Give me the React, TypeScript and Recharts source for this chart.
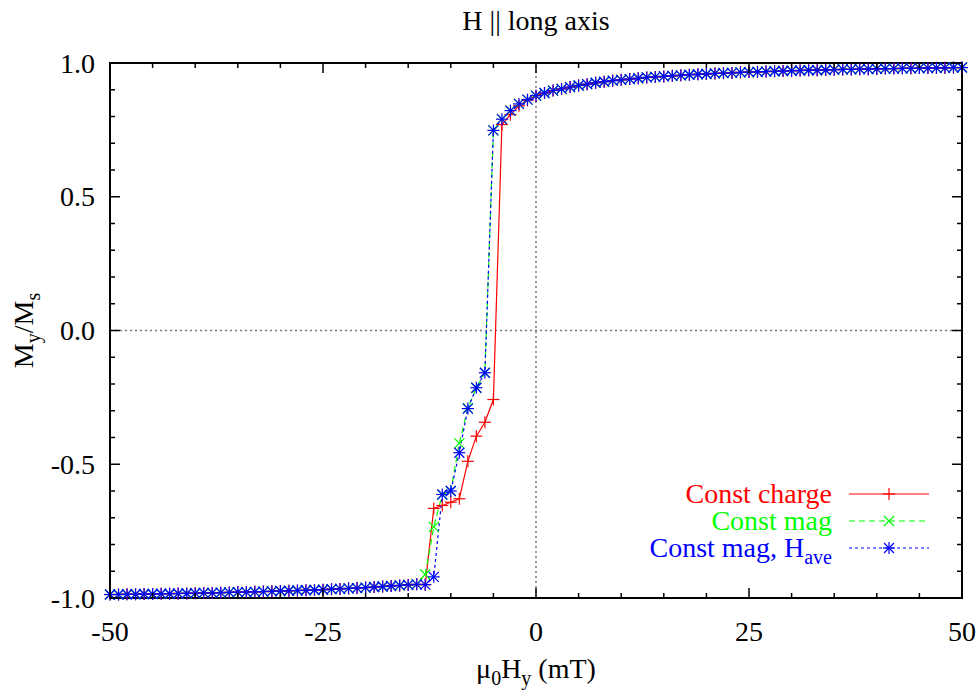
import { LineChart, Line, XAxis, YAxis, ReferenceLine, ReferenceArea, Legend } from "recharts"

// applied field, mT
const hField = [
  -50, -49, -48, -47, -46, -45, -44, -43, -42, -41, -40, -39, -38, -37, -36, -35, -34, -33, -32, -31,
  -30, -29, -28, -27, -26, -25, -24, -23, -22, -21, -20, -19, -18, -17, -16, -15, -14, -13, -12, -11,
  -10, -9, -8, -7, -6, -5, -4, -3, -2, -1, 0, 1, 2, 3, 4, 5, 6, 7, 8, 9, 10, 11, 12, 13, 14, 15, 16,
  17, 18, 19, 20, 21, 22, 23, 24, 25, 26, 27, 28, 29, 30, 31, 32, 33, 34, 35, 36, 37, 38, 39, 40, 41,
  42, 43, 44, 45, 46, 47, 48, 49, 50,
]

// common lower branch, H = -50 .. -14
const lowerBranch = [
  -0.987, -0.987, -0.986, -0.986, -0.985, -0.985, -0.984, -0.984, -0.983, -0.983,
  -0.982, -0.981, -0.981, -0.98, -0.979, -0.978, -0.978, -0.977, -0.976, -0.975,
  -0.974, -0.973, -0.972, -0.971, -0.97, -0.969, -0.967, -0.966, -0.964, -0.963,
  -0.961, -0.959, -0.957, -0.955, -0.953, -0.951, -0.949,
]

// switching region, H = -13 .. -1
const chargeTransition = [-0.95, -0.665, -0.654, -0.642, -0.629, -0.489, -0.395, -0.343, -0.258, 0.77, 0.807, 0.84, 0.86]
const magTransition = [-0.912, -0.734, -0.613, -0.6, -0.422, -0.29, -0.214, -0.158, 0.748, 0.79, 0.822, 0.847, 0.863]
const aveTransition = [-0.95, -0.921, -0.613, -0.6, -0.457, -0.292, -0.214, -0.158, 0.748, 0.79, 0.822, 0.847, 0.863]

// common upper branch, H = 0 .. 50
const upperBranch = [
  0.878, 0.888, 0.897, 0.903, 0.91, 0.916, 0.921, 0.926, 0.93, 0.934,
  0.937, 0.94, 0.943, 0.946, 0.948, 0.95, 0.952, 0.954, 0.956, 0.958,
  0.959, 0.961, 0.962, 0.963, 0.965, 0.966, 0.967, 0.968, 0.969, 0.97,
  0.971, 0.972, 0.973, 0.973, 0.974, 0.975, 0.976, 0.976, 0.977, 0.977,
  0.978, 0.979, 0.979, 0.98, 0.98, 0.981, 0.981, 0.982, 0.982, 0.983, 0.983,
]

const xTicks = [-50, -45, -40, -35, -30, -25, -20, -15, -10, -5, 0, 5, 10, 15, 20, 25, 30, 35, 40, 45, 50]
const xMajor = [-50, -25, 0, 25, 50]
const yTicks = [-1, -0.9, -0.8, -0.7, -0.6, -0.5, -0.4, -0.3, -0.2, -0.1, 0, 0.1, 0.2, 0.3, 0.4, 0.5, 0.6, 0.7, 0.8, 0.9, 1]
const yMajor = [-1, -0.5, 0, 0.5, 1]

const chargeSeries = [...lowerBranch, ...chargeTransition, ...upperBranch]
const magSeries = [...lowerBranch, ...magTransition, ...upperBranch]
const aveSeries = [...lowerBranch, ...aveTransition, ...upperBranch]

const data = hField.map((h, i) => ({ h, charge: chargeSeries[i], mag: magSeries[i], ave: aveSeries[i] }))

const W = 979
const H = 692
const M = { top: 63, right: 17, left: 0, bottom: 0 }
const Y_AXIS_W = 110
const X_AXIS_H = 94
const PLOT_TOP = M.top
const PLOT_RIGHT = W - M.right
const FONT = "'Liberation Serif', 'Times New Roman', serif"
const FS = 28

const RED = "#ff0000"
const GREEN = "#00ff00"
const BLUE = "#0000ff"

const Plus = ({ cx, cy, color }: any) => (
  <g stroke={color} strokeWidth={1.2}>
    <line x1={cx - 6} y1={cy} x2={cx + 6} y2={cy} />
    <line x1={cx} y1={cy - 6} x2={cx} y2={cy + 6} />
  </g>
)
const Cross = ({ cx, cy, color }: any) => (
  <g stroke={color} strokeWidth={1.2}>
    <line x1={cx - 5} y1={cy - 5} x2={cx + 5} y2={cy + 5} />
    <line x1={cx - 5} y1={cy + 5} x2={cx + 5} y2={cy - 5} />
  </g>
)
const Star = ({ cx, cy, color }: any) => (
  <g>
    <Plus cx={cx} cy={cy} color={color} />
    <Cross cx={cx} cy={cy} color={color} />
  </g>
)

const XTick = (props: any) => {
  const { x, y, payload } = props
  const major = xMajor.includes(payload.value)
  const len = major ? 10 : 5
  return (
    <g>
      <line x1={x} x2={x} y1={y} y2={y - len} stroke="#000" strokeWidth={1.5} />
      <line x1={x} x2={x} y1={PLOT_TOP} y2={PLOT_TOP + len} stroke="#000" strokeWidth={1.5} />
      {major && (
        <text x={x} y={y + 43} textAnchor="middle" fontFamily={FONT} fontSize={FS} fill="#000">
          {payload.value}
        </text>
      )}
    </g>
  )
}

const YTick = (props: any) => {
  const { x, y, payload } = props
  const major = yMajor.some((v) => Math.abs(v - payload.value) < 1e-6)
  const len = major ? 10 : 5
  return (
    <g>
      <line x1={x} x2={x + len} y1={y} y2={y} stroke="#000" strokeWidth={1.5} />
      <line x1={PLOT_RIGHT} x2={PLOT_RIGHT - len} y1={y} y2={y} stroke="#000" strokeWidth={1.5} />
      {major && (
        <text x={x - 15} y={y + 9.5} textAnchor="end" fontFamily={FONT} fontSize={FS} fill="#000">
          {Number(payload.value).toFixed(1)}
        </text>
      )}
    </g>
  )
}

const XLabel = ({ viewBox }: any) => (
  <text x={viewBox.x + viewBox.width / 2} y={viewBox.y + 80} textAnchor="middle" fontFamily={FONT} fontSize={FS} fill="#000">
    μ<tspan dy={7} fontSize={20}>0</tspan>
    <tspan dy={-7}>H</tspan>
    <tspan dy={7} fontSize={20}>y</tspan>
    <tspan dy={-7}> (mT)</tspan>
  </text>
)

const YLabel = ({ viewBox }: any) => {
  const cx = 33
  const cy = viewBox.y + viewBox.height / 2
  return (
    <text x={cx} y={cy} transform={`rotate(-90, ${cx}, ${cy})`} textAnchor="middle" fontFamily={FONT} fontSize={FS} fill="#000">
      M<tspan dy={7} fontSize={20}>y</tspan>
      <tspan dy={-7}>/M</tspan>
      <tspan dy={7} fontSize={20}>s</tspan>
    </text>
  )
}

const legendItems = [
  { label: "Const charge", sub: "", color: RED, dash: undefined, Mark: Plus },
  { label: "Const mag", sub: "", color: GREEN, dash: "6 4", Mark: Cross },
  { label: "Const mag, H", sub: "ave", color: BLUE, dash: "3 3", Mark: Star },
]

const LEG_X = 600
const LEG_Y = 470

const LegendBox = () => (
  <svg width={360} height={100} style={{ overflow: "visible" }}>
    {legendItems.map((it, i) => {
      const ly = 494 - LEG_Y + i * 27
      return (
        <g key={it.label}>
          <text x={832 - LEG_X} y={ly + 9} textAnchor="end" fontFamily={FONT} fontSize={FS} fill={it.color}>
            {it.label}
            {it.sub && (
              <tspan dy={7} fontSize={20}>
                {it.sub}
              </tspan>
            )}
          </text>
          <line x1={849 - LEG_X} x2={929 - LEG_X} y1={ly} y2={ly} stroke={it.color} strokeWidth={1.2} strokeDasharray={it.dash} />
          <it.Mark cx={889 - LEG_X} cy={ly} color={it.color} />
        </g>
      )
    })}
  </svg>
)

export default function App() {
  return (
    <div style={{ position: "absolute", left: 0, top: 0, width: W, height: H, background: "#fff" }}>
      <div
        style={{
          position: "absolute",
          left: 110,
          width: 852,
          top: 1,
          textAlign: "center",
          fontFamily: FONT,
          fontSize: FS,
          lineHeight: "40px",
          color: "#000",
        }}
      >
        H || long axis
      </div>
      <LineChart width={W} height={H} data={data} margin={M}>
        <XAxis
          type="number"
          dataKey="h"
          domain={[-50, 50]}
          ticks={xTicks}
          interval={0}
          height={X_AXIS_H}
          tickSize={0}
          tickMargin={0}
          tickLine={false}
          axisLine={false}
          tick={XTick}
          label={{ content: XLabel }}
        />
        <YAxis
          type="number"
          domain={[-1, 1]}
          ticks={yTicks}
          interval={0}
          width={Y_AXIS_W}
          tickSize={0}
          tickMargin={0}
          tickLine={false}
          axisLine={false}
          tick={YTick}
          label={{ content: YLabel }}
        />
        <ReferenceLine x={0} stroke="#777" strokeWidth={1.5} strokeDasharray="2 3" />
        <ReferenceLine y={0} stroke="#777" strokeWidth={1.5} strokeDasharray="2 3" />
        <ReferenceArea x1={-50} x2={50} y1={-1} y2={1} fill="none" fillOpacity={0} stroke="#000" strokeWidth={2} />
        <Legend
          layout="vertical"
          align="center"
          verticalAlign="middle"
          wrapperStyle={{ left: LEG_X, top: LEG_Y, width: 360 }}
          content={LegendBox}
        />
        <Line
          type="linear"
          dataKey="charge"
          stroke={RED}
          strokeWidth={1.2}
          isAnimationActive={false}
          dot={(p: any) => <Plus key={`c${p.index}`} cx={p.cx} cy={p.cy} color={RED} />}
        />
        <Line
          type="linear"
          dataKey="mag"
          stroke={GREEN}
          strokeWidth={1.2}
          strokeDasharray="6 4"
          isAnimationActive={false}
          dot={(p: any) => <Cross key={`m${p.index}`} cx={p.cx} cy={p.cy} color={GREEN} />}
        />
        <Line
          type="linear"
          dataKey="ave"
          stroke={BLUE}
          strokeWidth={1.2}
          strokeDasharray="3 3"
          isAnimationActive={false}
          dot={(p: any) => <Star key={`a${p.index}`} cx={p.cx} cy={p.cy} color={BLUE} />}
        />
      </LineChart>
    </div>
  )
}
